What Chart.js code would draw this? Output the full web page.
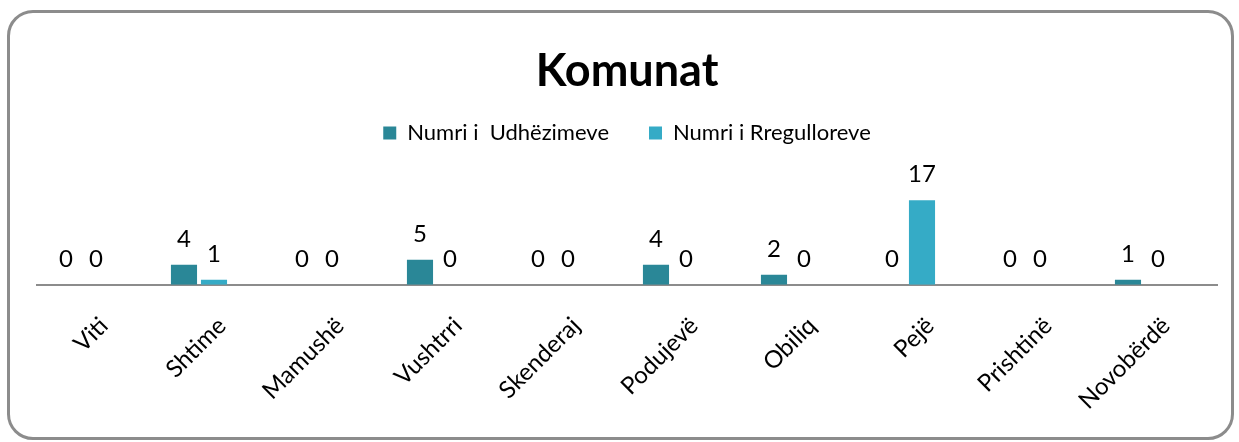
<!DOCTYPE html>
<html>
<head>
<meta charset="utf-8">
<script src="https://cdn.jsdelivr.net/npm/chart.js@4"></script>
<style>
html,body{margin:0;padding:0;background:#fff;}
#wrap{position:relative;width:1239px;height:442px;overflow:hidden;}
#frame{position:absolute;left:7px;top:10px;width:1221px;height:424px;border:3px solid #8c8c8c;border-radius:26px;}
canvas{position:absolute;left:0;top:0;}
</style>
</head>
<body>
<div id="wrap">
<div id="frame"></div>
<canvas id="c" width="1239" height="442"></canvas>
</div>
<script>
const categories = ["Viti","Shtime","Mamushë","Vushtrri","Skenderaj","Podujevë","Obiliq","Pejë","Prishtinë","Novobërdë"];
const udhezimeve = [0,4,0,5,0,4,2,0,0,1];
const rregulloreve = [0,1,0,0,0,0,0,17,0,0];
const seriesNames = ["Numri i  Udhëzimeve","Numri i Rregulloreve"];
const emptySeries = [null,null,null,null,null,null,null,null,null,null];

const FONT = "Lato, 'Open Sans', sans-serif";

const valueLabels = {
  id: 'valueLabels',
  afterDatasetsDraw(chart) {
    const ctx = chart.ctx;
    ctx.save();
    ctx.font = "24px " + FONT;
    ctx.fillStyle = "#000";
    ctx.textAlign = "center";
    ctx.textBaseline = "alphabetic";
    [0,1].forEach(di => {
      const meta = chart.getDatasetMeta(di);
      meta.data.forEach((el, i) => {
        const v = chart.data.datasets[di].data[i];
        if (v === null || v === undefined) return;
        ctx.fillText(String(v), el.x, el.y - 18);
      });
    });
    ctx.restore();
  }
};

new Chart(document.getElementById('c'), {
  type: 'bar',
  data: {
    labels: categories,
    datasets: [
      { label: seriesNames[0], data: udhezimeve, backgroundColor: '#2a8797', borderWidth: 0 },
      { label: seriesNames[1], data: rregulloreve, backgroundColor: '#35abc6', borderWidth: 0 },
      { label: '', data: emptySeries, backgroundColor: 'rgba(0,0,0,0)', borderWidth: 0 }
    ]
  },
  options: {
    responsive: false,
    animation: false,
    devicePixelRatio: 1,
    categoryPercentage: 0.763,
    barPercentage: 0.87,
    layout: { padding: { left: 37, right: 22, top: 44, bottom: 0 } },
    plugins: {
      title: {
        display: true,
        text: 'Komunat',
        color: '#000',
        font: { family: FONT, size: 45, weight: 'bold' },
        padding: { top: 0, bottom: -16 }
      },
      legend: {
        display: true,
        labels: {
          color: '#000',
          font: { family: FONT, size: 22 },
          boxWidth: 13,
          boxHeight: 13,
          padding: 40,
          filter: (item) => item.datasetIndex < 2
        }
      },
      tooltip: { enabled: false }
    },
    scales: {
      x: {
        grid: { display: false, drawTicks: false },
        border: { display: true, color: '#8c8c8c', width: 2 },
        ticks: {
          color: '#000',
          font: { family: FONT, size: 24 },
          minRotation: 45,
          maxRotation: 45,
          padding: 27,
          labelOffset: 8,
          autoSkip: false
        }
      },
      y: {
        display: false,
        min: 0,
        max: 26.3
      }
    }
  },
  plugins: [valueLabels]
});
</script>
</body>
</html>
